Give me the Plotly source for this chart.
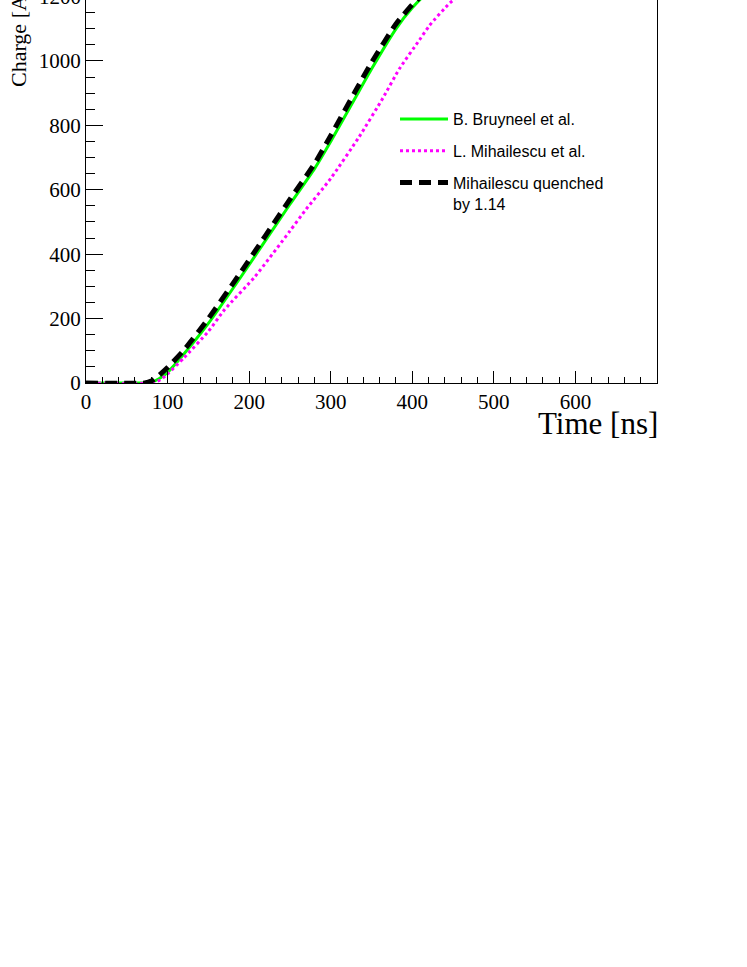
import plotly.graph_objects as go

# ---- data ----
time_bruyneel = [0, 70, 80, 90, 100, 120, 150, 190, 250, 280, 300, 330, 350, 380, 400, 420, 440, 470, 500, 600, 700]
charge_bruyneel = [0, 0, 2, 14, 33, 90, 185, 330, 555, 665, 750, 885, 975, 1100, 1165, 1215, 1240, 1255, 1260, 1260, 1260]

time_mihailescu = [0, 80, 90, 100, 120, 150, 170, 207, 250, 270, 300, 335, 364, 384, 409, 421, 446, 470, 500, 600, 700]
charge_mihailescu = [0, 0, 8, 28, 78, 160, 228, 330, 472, 540, 635, 765, 885, 975, 1066, 1110, 1180, 1225, 1245, 1250, 1250]

time_quenched = [0, 72, 80, 90, 100, 120, 150, 190, 250, 280, 300, 330, 350, 380, 400, 420, 440, 470, 500, 600, 700]
charge_quenched = [0, 0, 6, 25, 48, 102, 200, 345, 570, 680, 768, 905, 995, 1115, 1175, 1222, 1250, 1262, 1265, 1265, 1265]

names = ["B. Bruyneel et al.", "L. Mihailescu et al.", "Mihailescu quenched<br>by 1.14"]
y_ticks = [0, 200, 400, 600, 800, 1000]
x_ticks = [0, 100, 200, 300, 400, 500, 600]
cut_tick = 1200

W, H = 747, 967
L, R, T, B = 86, 90, 0, 584
Y_MAX = 1189.4

fig = go.Figure()
fig.add_trace(go.Scatter(x=time_bruyneel, y=charge_bruyneel, mode="lines", name=names[0],
                         legendgroup="a",
                         line=dict(color="#00ff00", width=3, shape="spline", smoothing=0.5)))
fig.add_trace(go.Scatter(x=time_mihailescu, y=charge_mihailescu, mode="lines", name=names[1],
                         legendgroup="b",
                         line=dict(color="#ff00ff", width=3, dash="3px,3px", shape="spline", smoothing=0.5)))
fig.add_trace(go.Scatter(x=time_quenched, y=charge_quenched, mode="lines", name=names[2],
                         legendgroup="c",
                         line=dict(color="#000000", width=5, dash="12px,7px", shape="spline", smoothing=0.5)))

serif = "Liberation Serif, Times New Roman, serif"
sans = "Liberation Sans, Arial, Helvetica, sans-serif"

plot_h = H - T - B
plot_w = W - L - R

fig.update_layout(
    width=W, height=H,
    margin=dict(l=L, r=R, t=T, b=B, pad=0, autoexpand=False),
    paper_bgcolor="white", plot_bgcolor="white",
    showlegend=True,
    legend=dict(x=(395 - L) / plot_w, y=(383 - 102) / plot_h, xanchor="left", yanchor="top",
                bgcolor="rgba(0,0,0,0)", borderwidth=0,
                font=dict(family=sans, size=16, color="black"),
                tracegroupgap=8, valign="top", traceorder="grouped", itemwidth=48),
    xaxis=dict(range=[0, 700], tickvals=x_ticks, ticks="inside", ticklen=12, tickwidth=1,
               tickcolor="black", showline=True, linecolor="black", linewidth=1, mirror=False,
               showgrid=False, zeroline=False, automargin=False,
               tickfont=dict(family=serif, size=21, color="black"),
               minor=dict(dtick=20, ticks="inside", ticklen=6, tickcolor="black", showgrid=False)),
    yaxis=dict(range=[0, Y_MAX], tickvals=y_ticks, ticks="inside", ticklen=17, tickwidth=1,
               tickcolor="black", showline=True, linecolor="black", linewidth=1, mirror=True,
               showgrid=False, zeroline=False, automargin=False,
               tickfont=dict(family=serif, size=21, color="black"),
               minor=dict(dtick=50, ticks="inside", ticklen=9, tickcolor="black", showgrid=False)),
)

fig.add_annotation(text="Time [ns]", xref="paper", yref="paper",
                   x=1.0 + 3 / plot_w, y=-(423 - (H - B)) / plot_h, xanchor="right", yanchor="middle",
                   showarrow=False, font=dict(family=serif, size=31, color="black"))
fig.add_annotation(text="Charge [A.U.]", xref="paper", yref="paper",
                   x=(18 - L) / plot_w, y=((H - B) - 89) / plot_h, xanchor="center", yanchor="bottom",
                   textangle=-90, showarrow=False, font=dict(family=serif, size=22, color="black"))
fig.add_annotation(text=str(cut_tick), xref="paper", yref="paper",
                   x=(83 - L) / plot_w, y=cut_tick / Y_MAX, xanchor="right", yanchor="middle",
                   showarrow=False, font=dict(family=serif, size=21, color="black"))

fig.write_html("out.html", config={"displayModeBar": False},
               post_script="document.body.style.margin='0';")
